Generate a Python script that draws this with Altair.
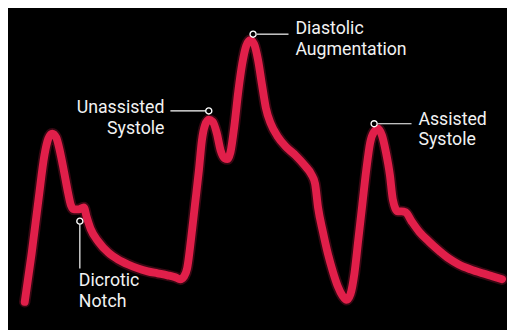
import altair as alt
import pandas as pd

# Waveform (time in arbitrary units, pressure in arbitrary units)
time = [17, 24, 31, 37, 41, 45, 49, 53, 57, 61, 64, 67, 72, 77, 80, 84, 92, 102, 112, 122,
        132, 142, 152, 162, 170, 175, 179, 182, 186, 190, 194, 197, 200, 204, 208, 212,
        216, 220, 223, 226, 230, 234, 238, 242, 246, 250, 254, 258, 262, 267, 274, 282,
        292, 302, 308, 312, 315, 320, 325, 330, 335, 340, 344, 348, 352, 356, 360, 364,
        368, 372, 376, 380, 384, 388, 391, 396, 400, 404, 410, 418, 428, 438, 448, 458,
        470, 482, 492, 502]
pressure = [26, 75, 130, 175, 192, 197, 193, 178, 158, 137, 124, 120, 120, 122, 112, 100,
            87, 76, 69, 64, 60, 57, 55, 53, 51, 49, 52, 60, 90, 125, 160, 190, 205, 211,
            209, 198, 180, 172, 171, 178, 205, 240, 268, 286, 292, 288, 272, 247, 223,
            207, 194, 184, 175, 164, 156, 146, 122, 97, 75, 57, 42, 32, 28, 34, 55, 90,
            125, 160, 188, 199, 202, 195, 178, 155, 130, 118, 118, 117, 108, 97, 87, 78,
            70, 64, 59, 55, 52, 49]

# Annotations
labels = ["Unassisted\nSystole", "Diastolic\nAugmentation", "Assisted\nSystole", "Dicrotic\nNotch"]
dot_t = [204, 249, 372, 73]
dot_p = [220, 298, 207, 108]
lead_t1 = [201, 253, 376, 73]
lead_t2 = [165, 285, 410, 73]
lead_p1 = [220, 298, 207, 104]
lead_p2 = [220, 298, 207, 60]
text_t = [159, 292, 417, 72]
text_p = [218, 298, 206, 42]
text_align = ["right", "left", "left", "left"]

wave = pd.DataFrame({"t": time, "p": pressure})
ann = pd.DataFrame({
    "label": labels, "dt": dot_t, "dp": dot_p,
    "lt1": lead_t1, "lt2": lead_t2, "lp1": lead_p1, "lp2": lead_p2,
    "tt": text_t, "tp": text_p, "align": text_align,
})

W, H = 507, 322
xs = alt.Scale(domain=[0, W], nice=False, zero=False)
ys = alt.Scale(domain=[0, H], nice=False, zero=False)
X = lambda f: alt.X(f, type="quantitative", scale=xs, axis=None)
Y = lambda f: alt.Y(f, type="quantitative", scale=ys, axis=None)

RED = "#e11f4a"

glow = alt.Chart(wave).mark_line(
    color=RED, strokeWidth=11.5, opacity=0.25, interpolate="monotone",
    strokeCap="round", strokeJoin="round"
).encode(x=X("t"), y=Y("p"))

line = alt.Chart(wave).mark_line(
    color=RED, strokeWidth=8, interpolate="monotone",
    strokeCap="round", strokeJoin="round"
).encode(x=X("t"), y=Y("p"))

leaders = alt.Chart(ann).mark_rule(color="white", strokeWidth=1.2).encode(
    x=X("lt1"), x2="lt2", y=Y("lp1"), y2="lp2"
)

dots = alt.Chart(ann).mark_point(
    shape="circle", size=38, filled=True, fill="black", stroke="white", strokeWidth=1.4, opacity=1
).encode(x=X("dt"), y=Y("dp"))

text_right = alt.Chart(ann[ann["align"] == "right"]).mark_text(
    align="right", baseline="alphabetic", color="#f2f2f2", font="Roboto",
    fontSize=18, lineHeight=21, lineBreak="\n"
).encode(x=X("tt"), y=Y("tp"), text="label:N")

text_left = alt.Chart(ann[ann["align"] == "left"]).mark_text(
    align="left", baseline="alphabetic", color="#f2f2f2", font="Roboto",
    fontSize=18, lineHeight=21, lineBreak="\n"
).encode(x=X("tt"), y=Y("tp"), text="label:N")

chart = alt.layer(glow, line, leaders, dots, text_right, text_left).properties(
    width=W, height=H, background="black", padding=0,
    autosize=alt.AutoSizeParams(type="none"),
).configure_view(stroke=None, fill="black")

chart.save("out.html", embed_options={"renderer": "svg", "actions": False})
